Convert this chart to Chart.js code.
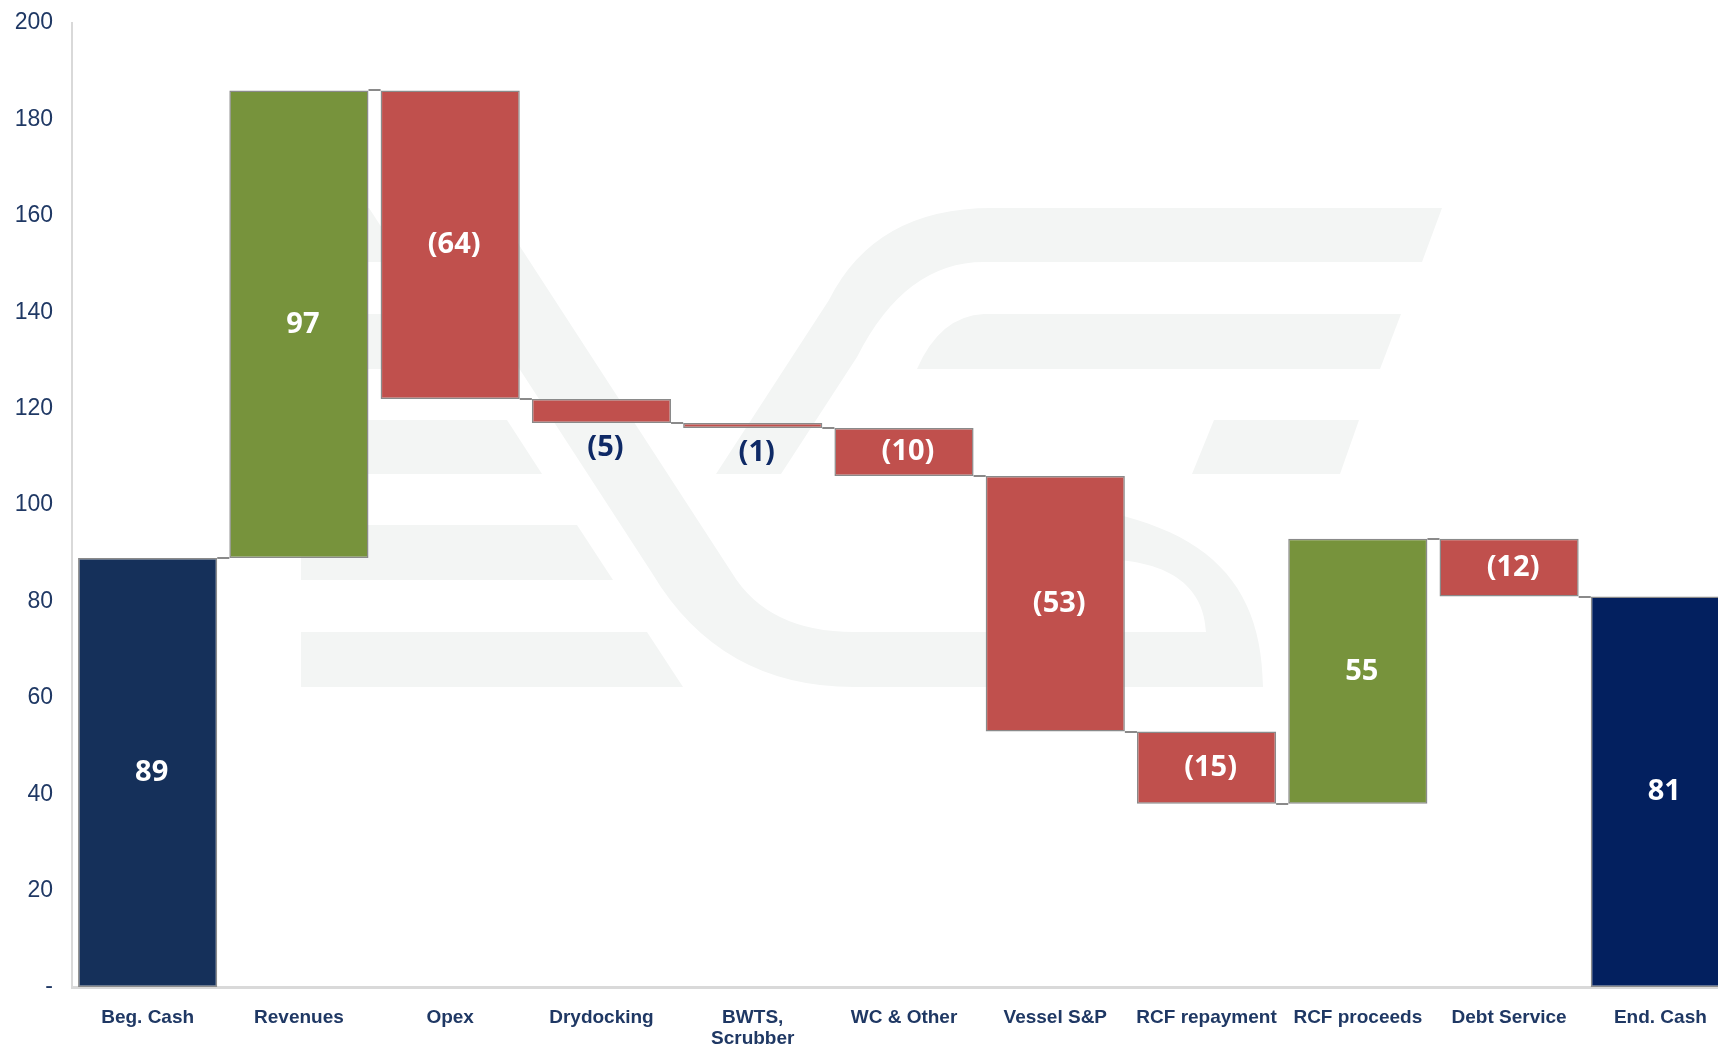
<!DOCTYPE html>
<html>
<head>
<meta charset="utf-8">
<script src="https://cdn.jsdelivr.net/npm/chart.js@4.4.1/dist/chart.umd.min.js"></script>
<style>
  html, body { margin: 0; padding: 0; background: #ffffff; overflow: hidden; }
  #wrap { width: 1736px; height: 1047px; }
</style>
</head>
<body>
<div id="wrap"><canvas id="c" width="1736" height="1047"></canvas></div>
<script>
// ---- data ----
const categories = ['Beg. Cash', 'Revenues', 'Opex', 'Drydocking', ['BWTS,', 'Scrubber'], 'WC & Other', 'Vessel S&P', 'RCF repayment', 'RCF proceeds', 'Debt Service', 'End. Cash'];
const changes = [89, 97, -64, -5, -1, -10, -53, -15, 55, -12, 81];
const kinds = ['total', 'delta', 'delta', 'delta', 'delta', 'delta', 'delta', 'delta', 'delta', 'delta', 'total'];
const yTicks = [0, 20, 40, 60, 80, 100, 120, 140, 160, 180, 200];

// ---- derived floating ranges ----
const ranges = [];
const levels = [];
let run = 0;
changes.forEach((v, i) => {
  if (kinds[i] === 'total') {
    ranges.push([0, v]);
    run = v;
  } else {
    const start = run;
    run += v;
    ranges.push([Math.min(start, run), Math.max(start, run)]);
  }
  levels.push(run);
});

const NAVY_BEG = '#15305a';
const NAVY_END = '#03205f';
const GREEN = '#77933c';
const RED = '#c0504d';
const fills = changes.map((v, i) => {
  if (kinds[i] === 'total') return i === 0 ? NAVY_BEG : NAVY_END;
  return v >= 0 ? GREEN : RED;
});

const labelText = (v) => v < 0 ? '(' + (-v) + ')' : String(v);

// ---- decorative watermark ----
const watermark = {
  id: 'watermark',
  beforeDatasetsDraw(chart) {
    const ctx = chart.ctx;
    ctx.save();
    ctx.fillStyle = '#f3f5f4';
    const poly = (pts) => { ctx.beginPath(); ctx.moveTo(pts[0][0], pts[0][1]); for (let k = 1; k < pts.length; k++) ctx.lineTo(pts[k][0], pts[k][1]); ctx.closePath(); ctx.fill(); };
    // left stripes
    poly([[301,208],[369,208],[404,262],[301,262]]);
    poly([[301,314],[438,314],[474,369],[301,369]]);
    poly([[301,420],[507,420],[542,474],[301,474]]);
    poly([[301,525],[577,525],[613,580],[301,580]]);
    poly([[301,632],[647,632],[683,687],[301,687]]);
    // right stripes
    poly([[1214,420],[1359,420],[1340,474],[1192,474]]);
    ctx.beginPath();
    ctx.moveTo(984,314); ctx.lineTo(1401,314); ctx.lineTo(1380,369); ctx.lineTo(917,369);
    ctx.quadraticCurveTo(940,316,984,314); ctx.closePath(); ctx.fill();
    // top band + "/" stroke
    ctx.beginPath();
    ctx.moveTo(716,474); ctx.lineTo(781,474); ctx.lineTo(857,357);
    ctx.quadraticCurveTo(905,262,984,262);
    ctx.lineTo(1422,262); ctx.lineTo(1442,208); ctx.lineTo(992,208);
    ctx.quadraticCurveTo(875,208,829,300);
    ctx.closePath(); ctx.fill();
    // "\" stroke + bottom band
    ctx.beginPath();
    ctx.moveTo(415,208); ctx.lineTo(495,208); ctx.lineTo(732,573);
    ctx.quadraticCurveTo(768,632,854,632);
    ctx.lineTo(1206,632); ctx.lineTo(1263,687); ctx.lineTo(854,687);
    ctx.quadraticCurveTo(720,687,652,573);
    ctx.closePath(); ctx.fill();
    // right curve
    ctx.beginPath();
    ctx.moveTo(990,500);
    ctx.bezierCurveTo(1180,505,1262,560,1263,687);
    ctx.lineTo(1206,687);
    ctx.lineTo(1206,632);
    ctx.bezierCurveTo(1204,590,1175,560,1100,559);
    ctx.lineTo(990,559);
    ctx.closePath(); ctx.fill();
    ctx.restore();
  }
};

// ---- connectors + value labels ----
const overlay = {
  id: 'overlay',
  afterDatasetsDraw(chart) {
    const ctx = chart.ctx;
    const meta = chart.getDatasetMeta(0);
    const yScale = chart.scales.y;
    ctx.save();
    // connectors
    ctx.strokeStyle = '#8a8a8a';
    ctx.lineWidth = 2;
    for (let i = 0; i < meta.data.length - 1; i++) {
      const a = meta.data[i], b = meta.data[i + 1];
      const y = Math.round(yScale.getPixelForValue(levels[i]));
      ctx.beginPath();
      ctx.moveTo(a.x + a.width / 2, y);
      ctx.lineTo(b.x - b.width / 2, y);
      ctx.stroke();
    }
    // labels
    ctx.font = 'bold 29px "Open Sans", "Liberation Sans", Arial, sans-serif';
    ctx.textAlign = 'center';
    ctx.textBaseline = 'middle';
    meta.data.forEach((el, i) => {
      const v = changes[i];
      const top = Math.min(el.y, el.base);
      const bottom = Math.max(el.y, el.base);
      let y, color;
      if (Math.abs(v) < 8) {
        y = bottom + 25;
        color = '#0f2a66';
      } else {
        y = (top + bottom) / 2;
        color = '#ffffff';
      }
      ctx.fillStyle = color;
      ctx.fillText(labelText(v), el.x + 4, y);
    });
    ctx.restore();
  }
};

new Chart(document.getElementById('c'), {
  type: 'bar',
  data: {
    labels: categories,
    datasets: [{
      data: ranges,
      backgroundColor: fills,
      borderColor: '#8a8a8a',
      borderWidth: 1.5,
      borderSkipped: false,
      barPercentage: 0.92,
      categoryPercentage: 1.0
    }]
  },
  options: {
    responsive: false,
    animation: false,
    devicePixelRatio: 1,
    layout: { padding: { top: 23, right: 0, bottom: 0, left: 0 } },
    plugins: { legend: { display: false }, tooltip: { enabled: false } },
    scales: {
      x: {
        grid: { display: false, drawTicks: false },
        border: { display: true, color: '#d9d9d9', width: 3 },
        ticks: {
          padding: 20,
          color: '#1f3864',
          maxRotation: 0,
          autoSkip: false,
          font: { family: '"Liberation Sans Narrow", "Arial Narrow", "Liberation Sans", Arial, sans-serif', weight: 'bold', size: 19, lineHeight: 1.1 }
        },
        afterFit(scale) { scale.height = 60; }
      },
      y: {
        min: 0,
        max: 200,
        afterBuildTicks(scale) { scale.ticks = yTicks.map(v => ({ value: v })); },
        grid: { display: false, drawTicks: false },
        border: { display: true, color: '#d9d9d9', width: 2 },
        ticks: {
          padding: 19,
          color: '#1f3864',
          font: { family: '"Liberation Sans", Arial, sans-serif', size: 23 },
          callback: (v) => v === 0 ? '-' : String(v)
        },
        afterFit(scale) { scale.width = 72; scale.paddingTop = 0; scale.paddingBottom = 0; }
      }
    }
  },
  plugins: [watermark, overlay]
});
</script>
</body>
</html>
